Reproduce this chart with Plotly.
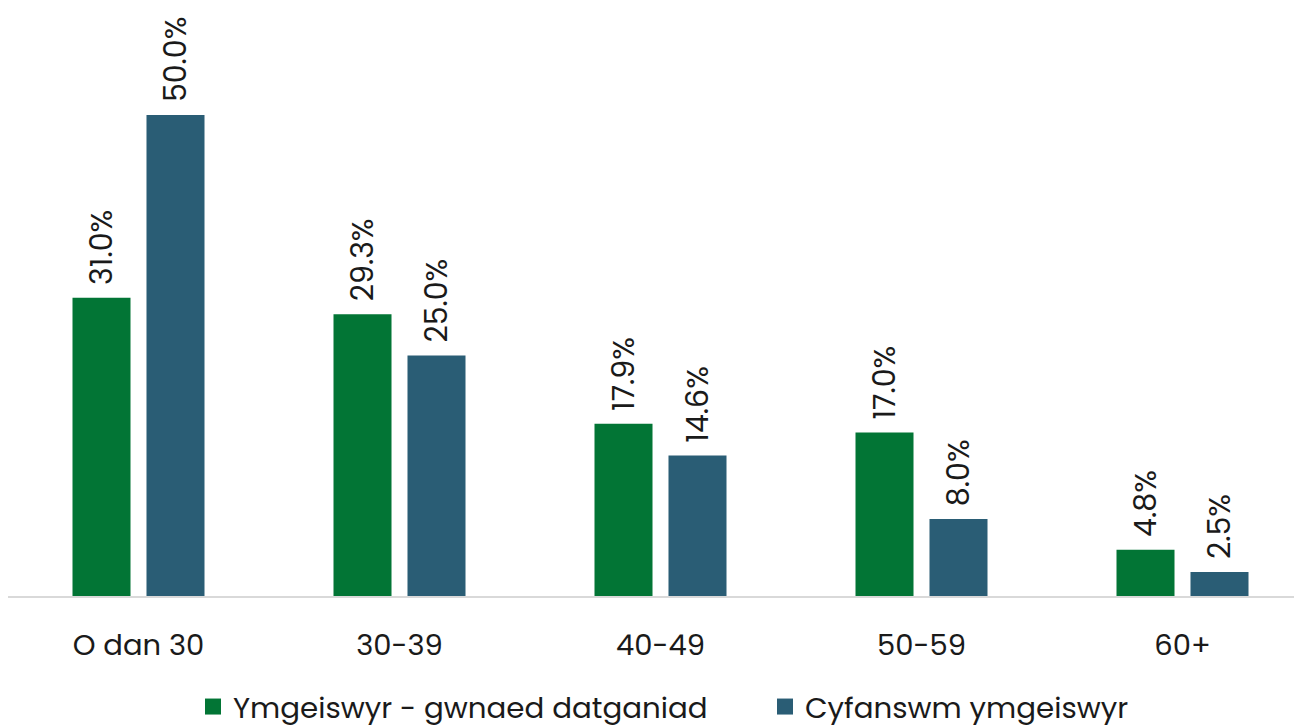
import plotly.graph_objects as go

categories = ["O dan 30", "30-39", "40-49", "50-59", "60+"]
series_names = ["Ymgeiswyr - gwnaed datganiad", "Cyfanswm ymgeiswyr"]
declared = [31.0, 29.3, 17.9, 17.0, 4.8]
total = [50.0, 25.0, 14.6, 8.0, 2.5]
colors = ["#027535", "#2A5D75"]

font_family = "Poppins, Lato, 'Noto Sans', sans-serif"

fig = go.Figure()
for name, vals, col in zip(series_names, [declared, total], colors):
    fig.add_trace(go.Bar(
        x=categories, y=vals, name=name, showlegend=False,
        marker=dict(color=col, line=dict(width=0)),
        text=[f" \u200a{v:.1f}%" for v in vals],
        textposition="outside", textangle=-90, constraintext="none",
        textfont=dict(size=30, color="#1a1a1a", family=font_family),
        cliponaxis=False,
    ))
# legend-only entries with larger square swatches
for name, col in zip(series_names, colors):
    fig.add_trace(go.Scatter(
        x=[None], y=[None], mode="markers", name=name,
        marker=dict(symbol="square", size=20, color=col),
    ))

W, H = 1294, 725
px_per_unit = 481 / 50.0
fig.update_layout(
    width=W, height=H,
    margin=dict(l=0, r=0, t=8, b=H - 588),
    barmode="group", bargap=0.433, bargroupgap=0.216,
    plot_bgcolor="white", paper_bgcolor="white",
    font=dict(family=font_family, color="#1a1a1a"),
    showlegend=True,
    legend=dict(orientation="h", xref="container", yref="container",
                x=185 / W, xanchor="left", y=1 - 699 / H, yanchor="middle",
                font=dict(size=29.3, family=font_family, color="#1a1a1a"),
                entrywidth=527, entrywidthmode="pixels", tracegroupgap=0),
)
fig.update_xaxes(showline=True, linecolor="#d9d9d9", linewidth=2, ticks="",
                 tickfont=dict(size=29, family=font_family, color="#1a1a1a"),
                 range=[-0.5, -0.5 + W / 261.0], showgrid=False,
                 ticklabelstandoff=22, automargin=False)
fig.update_yaxes(visible=False, range=[0, 580 / px_per_unit], showgrid=False,
                 automargin=False)

fig.write_html("out.html")
